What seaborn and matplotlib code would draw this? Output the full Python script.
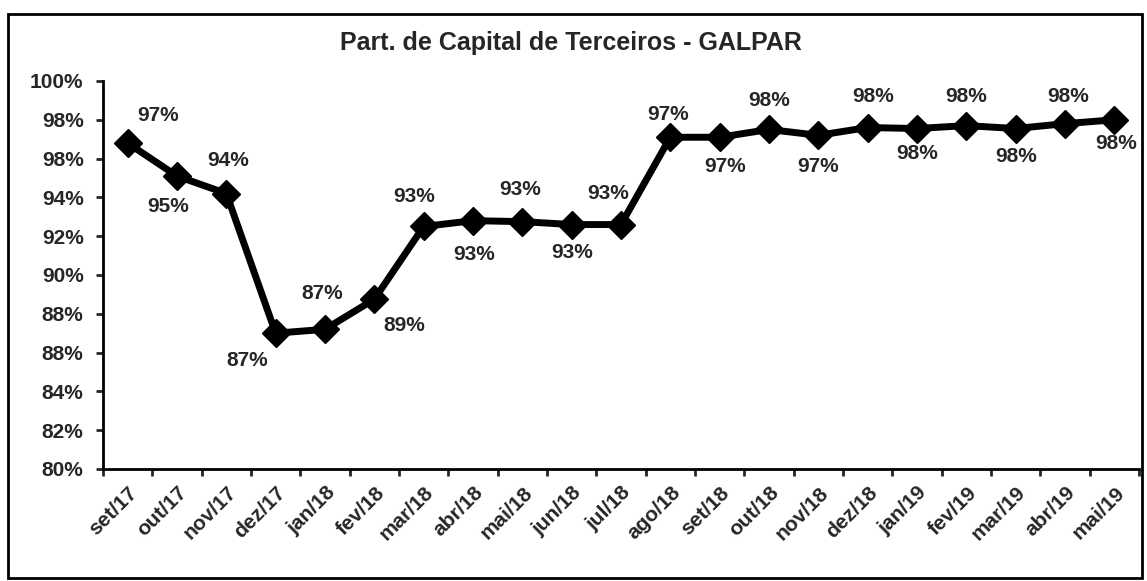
# Recreate "Part. de Capital de Terceiros - GALPAR" line chart
import numpy as np
import seaborn as sns
import matplotlib.pyplot as plt
import matplotlib.transforms as mtransforms
from matplotlib.patches import Rectangle

# Data
months = ["set/17", "out/17", "nov/17", "dez/17", "jan/18", "fev/18", "mar/18",
          "abr/18", "mai/18", "jun/18", "jul/18", "ago/18", "set/18", "out/18",
          "nov/18", "dez/18", "jan/19", "fev/19", "mar/19", "abr/19", "mai/19"]
values = [96.8, 95.1, 94.2, 87.0, 87.2, 88.75, 92.5, 92.8, 92.75, 92.6, 92.6,
          97.1, 97.1, 97.5, 97.2, 97.6, 97.55, 97.7, 97.55, 97.8, 98.0]
point_labels = ["97%", "95%", "94%", "87%", "87%", "89%", "93%", "93%", "93%",
                "93%", "93%", "97%", "97%", "98%", "97%", "98%", "98%", "98%",
                "98%", "98%", "98%"]
y_ticks = [80, 82, 84, 86, 88, 90, 92, 94, 96, 98, 100]
y_tick_labels = ["80%", "82%", "84%", "88%", "88%", "90%", "92%", "94%",
                 "98%", "98%", "100%"]

# Style
sns.set_style("white")
plt.rcParams['font.family'] = ['Liberation Sans', 'DejaVu Sans']
plt.rcParams['font.weight'] = 'bold'

fig = plt.figure(figsize=(11.47, 5.81), dpi=100)
ax = fig.add_axes([0.0898, 0.1928, 0.9032, 0.6678])

x = np.arange(len(months))
sns.lineplot(x=x, y=values, ax=ax, color="black", linewidth=5,
             marker="D", markersize=14.5, markeredgecolor="black",
             markerfacecolor="black", markeredgewidth=1)

# Data labels, alternating above / below (pixel offsets)
label_offsets = [(30, 28), (-9, -30), (2, 33), (-28, -27), (-3, 36), (30, -26),
                 (-10, 30), (1, -34), (-2, 32), (0, -28), (-13, 31), (-2, 23),
                 (5, -29), (0, 29), (0, -31), (5, 31), (0, -25), (0, 29),
                 (0, -28), (3, 27), (2, -24)]
for xi, yi, lab, off in zip(x, values, point_labels, label_offsets):
    ax.annotate(lab, (xi, yi), xytext=off, textcoords="offset pixels",
                ha="center", va="center", fontsize=15, fontweight="bold")

# Axes
ax.set_xlim(-0.5, len(months) - 0.5)
ax.set_ylim(80, 100)
ax.set_yticks(y_ticks)
ax.set_yticklabels(y_tick_labels, fontsize=15, fontweight="bold")
ax.tick_params(axis="y", direction="out", length=5, width=2, pad=9, left=True)

# category boundaries as tick marks, labels at the category centres
ax.set_xticks(np.arange(-0.5, len(months), 1.0))
ax.set_xticklabels([])
ax.tick_params(axis="x", which="major", direction="out", length=5, width=2,
               bottom=True)
ax.set_xticks(x, minor=True)
ax.set_xticklabels(months, minor=True, rotation=45, ha="right", va="center",
                   rotation_mode="anchor", fontsize=15, fontweight="bold")
ax.tick_params(axis="x", which="minor", length=0, pad=15)
shift = mtransforms.ScaledTranslation(7 / 100, 0, fig.dpi_scale_trans)
for lbl in ax.get_xticklabels(minor=True):
    lbl.set_transform(lbl.get_transform() + shift)

for side in ["top", "right"]:
    ax.spines[side].set_visible(False)
for side in ["left", "bottom"]:
    ax.spines[side].set_linewidth(2)
    ax.spines[side].set_color("black")

ax.set_xlabel("")
ax.set_ylabel("")
fig.text(0.498, 0.926, "Part. de Capital de Terceiros - GALPAR", ha="center",
         va="center", fontsize=18, fontweight="bold")

# outer chart border
fig.patches.append(Rectangle((0.007, 0.005), 0.989, 0.971, transform=fig.transFigure,
                             fill=False, edgecolor="black", linewidth=2))

fig.savefig("out.png", dpi=100)
